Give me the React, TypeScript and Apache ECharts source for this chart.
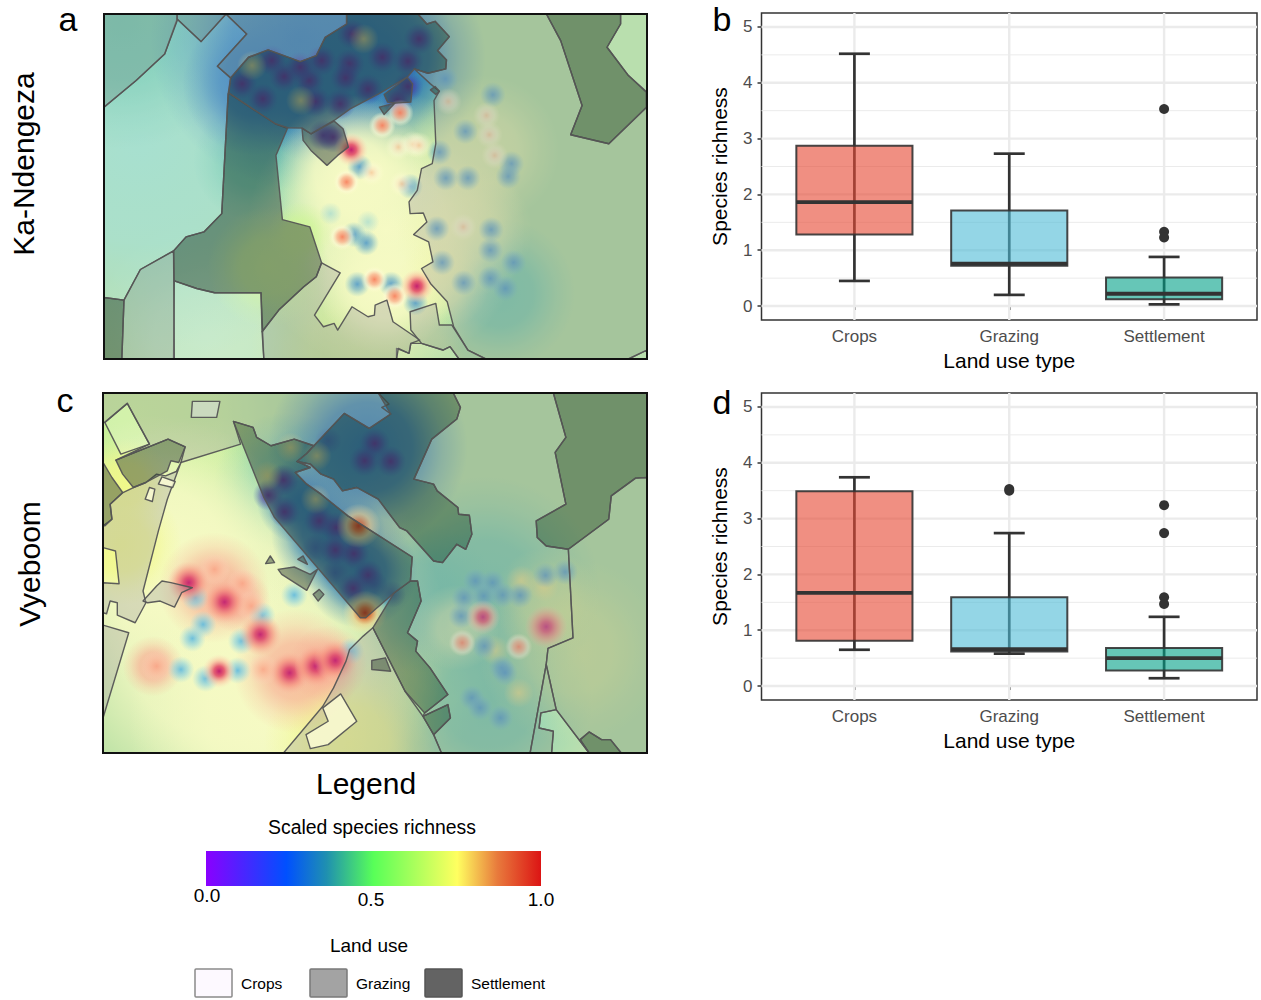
import React, { useEffect, useRef } from "react";
import * as echarts from "echarts";

// ---------- boxplot data ----------
const categories = ["Crops", "Grazing", "Settlement"];
const yTicks = [0, 1, 2, 3, 4, 5];
const yMinor = [0.5, 1.5, 2.5, 3.5, 4.5];
// [position, low, q1, median, q3, high]
const boxB = [
  [1, 0.45, 1.28, 1.86, 2.87, 4.52],
  [2, 0.2, 0.72, 0.76, 1.71, 2.73],
  [3, 0.03, 0.12, 0.22, 0.51, 0.88],
];
const outliersB = [[3, 3.53], [3, 1.33], [3, 1.23]];
const boxD = [
  [1, 0.65, 0.81, 1.67, 3.49, 3.74],
  [2, 0.58, 0.62, 0.66, 1.59, 2.74],
  [3, 0.14, 0.28, 0.5, 0.68, 1.24],
];
const outliersD = [[2, 3.5], [2, 3.53], [3, 3.24], [3, 2.74], [3, 1.59], [3, 1.47]];
const legendTicks = ["0.0", "0.5", "1.0"];
const landUse = ["Crops", "Grazing", "Settlement"];

// ---------- map a: land-use polygons ----------
const aSettlement = [
  [[690,40],[890,40],[915,70],[938,62],[978,108],[945,150],[970,178],[968,205],[918,218],[880,205],[860,230],[780,280],[700,325],[655,360],[590,400],[565,383],[520,382],[490,370],[360,278],[365,232],[415,170],[470,148],[560,183],[605,165],[630,110],[690,70]],
  [[360,278],[490,370],[525,382],[492,465],[510,658],[587,680],[620,788],[605,830],[570,860],[500,930],[453,995],[450,878],[320,878],[270,865],[207,842],[205,752],[240,710],[290,695],[340,640],[358,280]],
  [[565,383],[590,400],[655,362],[680,385],[690,420],[695,440],[665,465],[635,495],[590,450],[568,420]],
  [[795,282],[860,230],[875,250],[870,305],[825,308],[805,305]],
  [[782,320],[825,308],[795,342]],
  [[925,268],[938,258],[950,272],[940,282]],
  [[1250,40],[1458,40],[1458,70],[1420,140],[1480,225],[1530,275],[1530,320],[1425,430],[1318,403],[1350,315],[1290,120]],
  [[10,892],[66,900],[60,1077],[10,1077]],
];
const aGrazing = [
  [[10,40],[215,40],[215,60],[180,160],[100,240],[10,320]],
  [[215,55],[215,40],[352,40],[282,123]],
  [[352,40],[690,40],[690,70],[630,110],[605,165],[560,183],[470,148],[415,170],[365,232],[328,197],[410,100]],
  [[890,40],[1250,40],[1290,120],[1350,315],[1318,403],[1425,430],[1532,320],[1532,1050],[1480,1077],[1080,1077],[1030,1050],[990,980],[972,905],[925,850],[900,805],[932,785],[920,725],[878,703],[915,665],[905,638],[868,640],[865,605],[888,570],[900,505],[930,490],[940,430],[935,300],[950,272],[925,250],[880,205],[918,218],[968,205],[970,178],[945,150],[978,108],[938,62],[915,70]],
  [[620,788],[672,818],[600,945],[625,980],[655,970],[665,990],[705,920],[750,950],[768,945],[770,915],[803,900],[820,965],[895,1020],[870,1030],[865,1060],[835,1045],[830,1077],[458,1077],[453,995],[500,930],[570,860],[605,830]],
  [[868,935],[940,910],[950,975],[985,975],[1030,1050],[1080,1077],[1005,1077],[980,1040],[960,1050],[900,1030],[870,990]],
  [[66,900],[112,808],[205,752],[207,1077],[60,1077]],
];
const aCrops = [
  [[10,320],[100,240],[180,160],[215,55],[282,123],[352,40],[410,100],[328,197],[365,232],[358,280],[340,640],[290,695],[240,710],[205,752],[112,808],[66,900],[10,892]],
  [[207,842],[270,865],[320,878],[450,878],[458,1077],[205,1077]],
  [[1420,140],[1458,70],[1458,40],[1532,40],[1532,275],[1480,225]],
  [[830,1045],[865,1060],[870,1030],[900,1030],[960,1050],[980,1040],[1005,1077],[830,1077]],
  [[1480,1077],[1532,1050],[1532,1077]],
];
// ---------- map a: richness field ----------
const aFieldBroad = {
  mint: [[300,1010,330]],
  aqua: [[110,420,640]],
  teal: [[60,60,360],[1120,880,210],[430,480,170]],
  blue: [[560,120,420],[790,170,290],[430,250,200],[620,290,190]],
  sand: [[720,1060,300]],
  cream: [[800,690,390],[800,860,190],[700,520,220]],
  glow: [[1075,450,210],[1020,690,190],[960,850,130]],
  lime: [[470,800,170],[560,700,90]],
};
const aSpotsDark = [[705,100],[893,115],[790,170],[862,182],[620,180],[698,190],[480,180],[515,228],[585,240],[687,232],[750,266],[455,295],[603,303],[672,310],[397,250],[560,200],[862,258],[833,300],[625,405],[652,410]];
const aSpotsGold = [[738,115],[425,195],[562,300]];
const aSpotsBlue = [[967,235],[1100,283],[1023,393],[950,455],[1152,490],[1143,528],[968,533],[1030,533],[727,500],[868,558],[943,685],[1095,688],[1093,750],[958,787],[1158,787],[1018,848],[1093,835],[1135,865],[720,852],[815,852],[883,908],[710,703],[745,728]];
const aSpotsSky = [[645,640],[750,665]];
const aSpotsPale = [[975,303],[1082,345],[1090,403],[1105,465],[1017,680],[845,547],[760,517],[835,440],[875,432],[893,435]];
const aSpotsOrange = [[790,375],[840,337],[690,545],[678,710],[768,838],[825,888]];
const aSpotsRed = [[703,448],[887,858]];

// ---------- map c: land-use polygons ----------
const cSettlement = [
  [[600,185],[685,88],[755,133],[815,90],[780,27],[990,27],[1010,70],[1000,105],[930,165],[880,285],[935,300],[945,320],[1003,370],[1005,390],[1035,393],[1042,450],[1025,495],[1000,480],[960,535],[935,530],[860,440],[840,430],[780,345],[720,310],[680,320],[655,285],[620,270],[590,240],[553,232],[580,208]],
  [[375,112],[430,130],[440,160],[480,185],[545,165],[600,185],[580,208],[553,232],[590,250],[548,265],[580,300],[620,330],[695,395],[875,518],[870,590],[825,625],[745,700],[730,700],[490,400],[460,340]],
  [[870,590],[890,590],[900,650],[862,745],[890,770],[885,800],[925,850],[975,930],[910,985],[855,920],[765,730],[825,625]],
  [[905,995],[975,960],[982,1000],[935,1050]],
  [[46,228],[192,165],[240,188],[222,235],[200,230],[190,260],[130,295],[95,310],[65,270]],
  [[10,235],[35,280],[65,325],[30,360],[35,405],[15,425],[10,425]],
  [[762,828],[800,820],[815,860],[762,855]],
  [[500,555],[545,548],[590,570],[610,555],[580,618],[510,570]],
  [[598,630],[615,615],[628,630],[612,650]],
  [[465,538],[478,515],[490,535]],
  [[555,525],[570,515],[582,540]],
  [[1270,27],[1532,27],[1532,280],[1500,282],[1432,335],[1425,405],[1312,495],[1250,485],[1225,460],[1222,410],[1305,360],[1275,205],[1305,160]],
  [[1345,1065],[1370,1042],[1405,1065],[1430,1065],[1460,1105],[1370,1105]],
];
const cGrazing = [
  [[10,27],[780,27],[810,60],[790,70],[815,90],[755,133],[685,88],[600,185],[545,165],[480,185],[440,160],[430,130],[375,112],[395,180],[228,235],[240,188],[192,165],[46,228],[140,180],[78,58],[15,115],[10,115]],
  [[66,325],[95,310],[130,295],[160,270],[185,275],[215,262],[228,235],[190,345],[165,440],[122,620],[130,655],[100,715],[50,692],[50,655],[30,650],[20,688],[10,685],[10,595],[55,598],[45,500],[10,490],[10,425],[35,405],[30,360]],
  [[10,722],[82,745],[10,1000]],
  [[122,650],[160,605],[175,590],[200,595],[260,610],[230,625],[210,668],[170,650],[135,655]],
  [[990,27],[1270,27],[1305,160],[1275,205],[1305,360],[1222,410],[1225,460],[1250,485],[1312,495],[1325,760],[1255,792],[1250,840],[1205,1105],[957,1105],[935,1050],[982,1000],[975,960],[905,995],[910,985],[975,930],[925,850],[885,800],[890,770],[862,745],[900,650],[890,590],[870,590],[875,518],[695,395],[620,330],[580,300],[548,265],[590,250],[553,232],[590,240],[620,270],[655,285],[680,320],[720,310],[780,345],[840,430],[860,440],[935,530],[960,535],[1000,480],[1025,495],[1042,450],[1035,393],[1005,390],[1003,370],[945,320],[935,300],[880,285],[930,165],[1000,105],[1010,70]],
  [[738,755],[765,730],[855,920],[905,995],[935,1050],[957,1105],[515,1105],[625,965],[655,910],[690,830],[700,795]],
  [[1250,840],[1255,792],[1325,760],[1312,495],[1425,405],[1432,335],[1500,282],[1532,280],[1532,1105],[1460,1105],[1430,1065],[1405,1065],[1370,1042],[1345,1065],[1370,1105],[1278,975]],
  [[1250,840],[1278,975],[1235,985],[1230,1030],[1270,1040],[1265,1105],[1205,1105]],
];
const cCrops = [
  [[15,115],[78,58],[140,180],[60,210]],
  [[1235,985],[1278,975],[1370,1105],[1265,1105],[1270,1040],[1230,1030]],
];
const cInlays = [
  [[140,310],[155,315],[148,352],[128,345]],
  [[165,300],[175,278],[212,292],[205,310]],
  [[625,970],[675,928],[720,1010],[640,1080],[590,1092],[578,1050],[640,1010]],
];
const cPlots = [[[260,52],[337,52],[328,100],[257,100]]];
// ---------- map c: richness field ----------
const cFieldBroad = {
  lime: [[100,100,520],[930,900,170]],
  teal: [[1080,620,320],[1090,950,290],[900,640,210],[520,300,200],[620,280,170]],
  sand: [[1320,800,260],[1250,650,150]],
  cream: [[350,760,620],[170,500,380],[480,1000,400]],
  lemon: [[60,480,170],[70,300,130],[700,1080,240]],
  glow: [[1000,730,120]],
  peach: [[550,860,175],[640,840,110],[320,610,155],[390,650,90],[150,845,85]],
  blue: [[750,190,280],[560,350,120],[640,450,160],[730,560,160]],
};
const cSpotsDark = [[770,178],[742,230],[815,232],[515,288],[473,333],[518,383],[615,410],[662,430],[660,497],[712,508],[752,573],[710,612]];
const cSpotsDim = [[640,170],[660,565],[605,490],[770,600],[820,630]];
const cSpotsGold = [[470,275],[608,215],[535,190],[605,345],[1180,588],[1243,607],[1173,925],[1105,797]];
const cSpotsHot = [[725,425],[743,685]];
const cSpotsRedBig = [[250,595],[350,653],[450,750],[532,865],[605,845],[660,828],[1250,727]];
const cSpotsRed = [[335,860],[1073,698]];
const cSpotsBlush = [[322,555],[400,597],[425,665],[160,845],[458,855]];
const cSpotsOrange = [[1015,775],[1173,787]];
const cSpotsPaleBlue = [[268,640],[455,693],[290,720],[260,762],[397,770],[228,855],[297,882],[387,858],[545,632],[703,800]];
const cSpotsBlue = [[1052,590],[1100,595],[1020,640],[1075,635],[1128,632],[1177,633],[1012,695],[1077,785],[1125,850],[1135,865],[1042,940],[1065,970],[1122,1000],[1248,573],[1303,563]];

// ---------- styles ----------
const FONT = "Liberation Sans";
const rgba = (c: number[], a: number) => `rgba(${c[0]},${c[1]},${c[2]},${a})`;
const radial = (stops: [number, string][]) => ({
  type: "radial", x: 0.5, y: 0.5, r: 0.5, global: false,
  colorStops: stops.map(([offset, color]) => ({ offset, color })),
});
const soft = (c: number[], a: number) =>
  radial([[0, rgba(c, a)], [0.45, rgba(c, a * 0.82)], [0.75, rgba(c, a * 0.3)], [1, rgba(c, 0)]]);
const broadFill: Record<string, any> = {
  mint: soft([200, 238, 205], 0.7),
  aqua: soft([145, 218, 198], 0.95),
  teal: soft([95, 195, 170], 0.82),
  lime: soft([206, 245, 150], 0.85),
  sand: soft([228, 236, 140], 0.48),
  lemon: soft([240, 248, 130], 0.85),
  cream: soft([246, 250, 196], 1),
  glow: soft([245, 248, 170], 0.55),
  peach: soft([248, 172, 148], 0.8),
  blue: soft([42, 122, 182], 1),
};
const spotStyle: Record<string, { r: number; fill: any }> = {
  dark: { r: 44, fill: radial([[0, rgba([88, 38, 150], 0.9)], [0.45, rgba([70, 50, 165], 0.55)], [1, rgba([50, 90, 180], 0)]]) },
  dim: { r: 38, fill: radial([[0, rgba([45, 80, 170], 0.6)], [1, rgba([45, 80, 170], 0)]]) },
  gold: { r: 42, fill: radial([[0, rgba([245, 225, 125], 0.65)], [1, rgba([245, 225, 125], 0)]]) },
  blue: { r: 36, fill: radial([[0, rgba([58, 140, 200], 0.78)], [0.45, rgba([75, 155, 200], 0.52)], [1, rgba([100, 180, 210], 0)]]) },
  paleBlue: { r: 38, fill: radial([[0, rgba([95, 185, 222], 0.9)], [0.5, rgba([130, 205, 225], 0.55)], [1, rgba([160, 220, 225], 0)]]) },
  sky: { r: 32, fill: radial([[0, rgba([130, 205, 215], 0.5)], [1, rgba([130, 205, 215], 0)]]) },
  pale: { r: 38, fill: radial([[0, "rgba(248,195,150,0.72)"], [0.3, "rgba(252,228,195,0.6)"], [0.6, "rgba(255,250,215,0.38)"], [1, "rgba(255,252,200,0)"]]) },
  orange: { r: 38, fill: radial([[0, "rgba(248,130,95,0.95)"], [0.4, "rgba(250,180,145,0.8)"], [0.72, "rgba(255,250,215,0.5)"], [1, "rgba(255,252,200,0)"]]) },
  blush: { r: 44, fill: radial([[0, "rgba(250,160,130,0.72)"], [0.5, "rgba(252,190,160,0.5)"], [1, "rgba(253,215,190,0)"]]) },
  red: { r: 48, fill: radial([[0, "rgba(196,32,110,1)"], [0.3, "rgba(228,78,105,0.9)"], [0.62, "rgba(250,175,150,0.6)"], [1, "rgba(253,225,190,0)"]]) },
  redBig: { r: 60, fill: radial([[0, "rgba(196,40,115,1)"], [0.25, "rgba(222,75,110,0.92)"], [0.6, "rgba(245,140,125,0.6)"], [1, "rgba(250,190,160,0)"]]) },
  hot: { r: 62, fill: radial([[0, "rgba(205,50,20,1)"], [0.25, "rgba(225,110,50,0.92)"], [0.55, "rgba(245,215,140,0.7)"], [1, "rgba(250,240,170,0)"]]) },
};
const overlay: Record<string, string> = {
  crops: "rgba(255,250,255,0.2)",
  inlay: "rgba(252,252,215,0.82)",
  plot: "rgba(222,226,226,0.5)",
  grazing: "rgba(160,160,160,0.35)",
  settlement: "rgba(45,60,50,0.46)",
};
const boxFill = ["rgba(230,75,53,0.62)", "rgba(77,187,213,0.6)", "rgba(0,160,135,0.6)"];
const INK = "#333333";
const GRIDLINE = "#ebebeb";

function mapSeries(idx: number, broad: Record<string, number[][]>, spots: [string, number[][]][], polys: [string, number[][][]][]) {
  const field: { x: number; y: number; r: number; fill: any }[] = [];
  Object.entries(broad).forEach(([k, list]) => list.forEach((p) => field.push({ x: p[0], y: p[1], r: p[2], fill: broadFill[k] })));
  spots.forEach(([k, list]) => list.forEach((p) => field.push({ x: p[0], y: p[1], r: spotStyle[k].r, fill: spotStyle[k].fill })));
  const shapes: { pts: number[][]; kind: string }[] = [];
  polys.forEach(([kind, list]) => list.forEach((pts) => shapes.push({ pts, kind })));
  return [
    {
      type: "custom", xAxisIndex: idx, yAxisIndex: idx, clip: true, silent: true,
      encode: { x: 0, y: 1 },
      data: field.map((f) => [f.x, f.y]),
      renderItem: (params: any, api: any) => {
        const f = field[params.dataIndex];
        const c = api.coord([f.x, f.y]);
        const r = api.size([f.r, 0])[0];
        return { type: "circle", shape: { cx: c[0], cy: c[1], r }, style: { fill: f.fill } };
      },
    },
    {
      type: "custom", xAxisIndex: idx, yAxisIndex: idx, clip: true, silent: true,
      encode: { x: 0, y: 1 },
      data: shapes.map((s) => s.pts[0]),
      renderItem: (params: any, api: any) => {
        const s = shapes[params.dataIndex];
        return {
          type: "polygon",
          shape: { points: s.pts.map((p) => api.coord(p)) },
          style: { fill: overlay[s.kind], stroke: "rgba(85,85,85,0.95)", lineWidth: 1.4, lineJoin: "round" },
        };
      },
    },
  ];
}

function boxSeries(idx: number, boxes: number[][], outliers: number[][]) {
  const gridRows = [
    ...yMinor.map((v) => ["h", v, 1]),
    ...yTicks.map((v) => ["h", v, 2.4]),
    ...categories.map((_, i) => ["v", i + 1, 2.4]),
  ] as [string, number, number][];
  return [
    {
      type: "custom", xAxisIndex: idx, yAxisIndex: idx, silent: true, clip: true,
      encode: { x: 0, y: 1 },
      data: gridRows.map((r) => (r[0] === "h" ? [2, r[1]] : [r[1], 2])),
      renderItem: (params: any, api: any) => {
        const [kind, v, w] = gridRows[params.dataIndex];
        const a = kind === "h" ? api.coord([0.4, v]) : api.coord([v, -0.25]);
        const b = kind === "h" ? api.coord([3.6, v]) : api.coord([v, 5.25]);
        return { type: "line", shape: { x1: a[0], y1: a[1], x2: b[0], y2: b[1] }, style: { stroke: GRIDLINE, lineWidth: w } };
      },
    },
    {
      type: "custom", xAxisIndex: idx, yAxisIndex: idx, silent: true,
      encode: { x: 0, y: [1, 2, 3, 4, 5] },
      data: boxes,
      renderItem: (params: any, api: any) => {
        const x = api.value(0);
        const [lo, q1, med, q3, hi] = [1, 2, 3, 4, 5].map((i) => api.value(i));
        const seg = (x1: number, y1: number, x2: number, y2: number, w: number, stroke = INK) => {
          const a = api.coord([x1, y1]);
          const b = api.coord([x2, y2]);
          return { type: "line", shape: { x1: a[0], y1: a[1], x2: b[0], y2: b[1] }, style: { stroke, lineWidth: w } };
        };
        const tl = api.coord([x - 0.375, q3]);
        const br = api.coord([x + 0.375, q1]);
        return {
          type: "group",
          children: [
            seg(x, lo, x, hi, 2.7),
            seg(x - 0.1, lo, x + 0.1, lo, 2.7),
            seg(x - 0.1, hi, x + 0.1, hi, 2.7),
            {
              type: "rect",
              shape: { x: tl[0], y: tl[1], width: br[0] - tl[0], height: br[1] - tl[1] },
              style: { fill: boxFill[params.dataIndex], stroke: "rgba(51,51,51,0.9)", lineWidth: 2 },
            },
            seg(x - 0.375, med, x + 0.375, med, 3.8),
          ],
        };
      },
    },
    {
      type: "scatter", xAxisIndex: idx, yAxisIndex: idx, silent: true,
      symbolSize: 10, itemStyle: { color: INK, opacity: 1 }, data: outliers,
    },
  ];
}

const mapAxis = (min: number, max: number, gridIndex: number, inverse = false) => ({
  type: "value", gridIndex, min, max, inverse, show: false, splitLine: { show: false },
});
const boxX = (gridIndex: number) => ({
  type: "value", gridIndex, min: 0.4, max: 3.6,
  name: "Land use type", nameLocation: "middle", nameGap: 30,
  nameTextStyle: { fontSize: 21, color: "#000", fontFamily: FONT },
  axisLine: { show: false },
  axisTick: { show: true, length: 4, lineStyle: { color: INK, width: 1.5 }, customValues: [1, 2, 3] },
  axisLabel: {
    show: true, color: "#4d4d4d", fontSize: 17, fontFamily: FONT, margin: 8,
    customValues: [1, 2, 3], formatter: (v: number) => categories[Math.round(v) - 1],
  },
  splitLine: { show: false },
});
const boxY = (gridIndex: number) => ({
  type: "value", gridIndex, min: -0.25, max: 5.25,
  name: "Species richness", nameLocation: "middle", nameGap: 32, nameRotate: 90,
  nameTextStyle: { fontSize: 21, color: "#000", fontFamily: FONT },
  axisLine: { show: false },
  axisTick: { show: true, length: 4, lineStyle: { color: INK, width: 1.5 }, customValues: yTicks },
  axisLabel: { show: true, color: "#4d4d4d", fontSize: 17, fontFamily: FONT, margin: 9, customValues: yTicks },
  splitLine: { show: false },
});

const txt = (text: string, x: number, y: number, fontSize: number, extra: any = {}) => ({
  type: "text", x, y, z: 50, silent: true, ...extra,
  style: { text, fontSize, fontFamily: FONT, fill: "#000", align: "center", verticalAlign: "middle", ...(extra.style || {}) },
});

export default function App() {
  const ref = useRef<HTMLDivElement>(null);
  useEffect(() => {
    const chart = echarts.init(ref.current!, null, { renderer: "svg" });
    const legendTickX = [207, 371, 541];
    const legendTickY = [895, 899, 899];
    const swatchX = [195, 310, 425];
    const swatchFill = ["#fdf9ff", "#a3a3a3", "#636363"];
    const swatchStroke = ["#8a8a8a", "#7a7a7a", "#555555"];
    const labelX = [241, 356, 471];
    chart.setOption({
      animation: false,
      backgroundColor: "#ffffff",
      textStyle: { fontFamily: FONT },
      grid: [
        { left: 104, top: 14, width: 543, height: 345, show: true, backgroundColor: "#a8d99a", borderWidth: 0 },
        { left: 103, top: 393, width: 544, height: 360, show: true, backgroundColor: "#a8d99a", borderWidth: 0 },
        { left: 761.5, top: 13, width: 495.5, height: 307, show: true, backgroundColor: "#fff", borderColor: INK, borderWidth: 1.5 },
        { left: 761.5, top: 393, width: 495.5, height: 307, show: true, backgroundColor: "#fff", borderColor: INK, borderWidth: 1.5 },
      ],
      xAxis: [mapAxis(10, 1532, 0), mapAxis(10, 1532, 1), boxX(2), boxX(3)],
      yAxis: [mapAxis(40, 1077, 0, true), mapAxis(27, 1105, 1, true), boxY(2), boxY(3)],
      series: [
        ...mapSeries(0, aFieldBroad,
          [["dark", aSpotsDark], ["gold", aSpotsGold], ["blue", aSpotsBlue], ["sky", aSpotsSky], ["pale", aSpotsPale], ["orange", aSpotsOrange], ["red", aSpotsRed]],
          [["crops", aCrops], ["grazing", aGrazing], ["settlement", aSettlement]]),
        ...mapSeries(1, cFieldBroad,
          [["dark", cSpotsDark], ["dim", cSpotsDim], ["gold", cSpotsGold], ["paleBlue", cSpotsPaleBlue], ["blue", cSpotsBlue], ["blush", cSpotsBlush], ["orange", cSpotsOrange], ["red", cSpotsRed], ["redBig", cSpotsRedBig], ["hot", cSpotsHot]],
          [["crops", cCrops], ["grazing", cGrazing], ["settlement", cSettlement], ["inlay", cInlays], ["plot", cPlots]]),
        ...boxSeries(2, boxB, outliersB),
        ...boxSeries(3, boxD, outliersD),
      ],
      graphic: [
        { type: "rect", z: 40, silent: true, shape: { x: 104, y: 14, width: 543, height: 345 }, style: { fill: "none", stroke: "#111", lineWidth: 2 } },
        { type: "rect", z: 40, silent: true, shape: { x: 103, y: 393, width: 544, height: 360 }, style: { fill: "none", stroke: "#111", lineWidth: 2 } },
        txt("a", 68, 19, 34),
        txt("b", 722, 19, 34),
        txt("c", 65, 400, 34),
        txt("d", 722, 402, 34),
        txt("Ka-Ndengeza", 23, 164, 30, { rotation: Math.PI / 2 }),
        txt("Vyeboom", 29, 564, 30, { rotation: Math.PI / 2 }),
        txt("Legend", 366, 783, 30),
        txt("Scaled species richness", 372, 827, 19.4),
        {
          type: "rect", z: 40, silent: true,
          shape: { x: 206, y: 851, width: 335, height: 35 },
          style: {
            fill: {
              type: "linear", x: 0, y: 0, x2: 1, y2: 0,
              colorStops: [
                { offset: 0, color: "#8a00ff" },
                { offset: 0.24, color: "#0050ff" },
                { offset: 0.36, color: "#1f90b0" },
                { offset: 0.5, color: "#58ff58" },
                { offset: 0.75, color: "#ffff60" },
                { offset: 0.87, color: "#e87a3c" },
                { offset: 1, color: "#dc1414" },
              ],
            },
          },
        },
        ...legendTicks.map((t, i) => txt(t, legendTickX[i], legendTickY[i], 19)),
        txt("Land use", 369, 945, 19),
        ...landUse.map((_, i) => ({
          type: "rect", z: 40, silent: true,
          shape: { x: swatchX[i], y: 969, width: 37, height: 28, r: 1 },
          style: { fill: swatchFill[i], stroke: swatchStroke[i], lineWidth: 1.5 },
        })),
        ...landUse.map((t, i) => txt(t, labelX[i], 983, 15.5, { style: { align: "left" } })),
      ],
    });
    return () => chart.dispose();
  }, []);
  return <div ref={ref} style={{ position: "absolute", left: 0, top: 0, width: 1261, height: 1000 }} />;
}
